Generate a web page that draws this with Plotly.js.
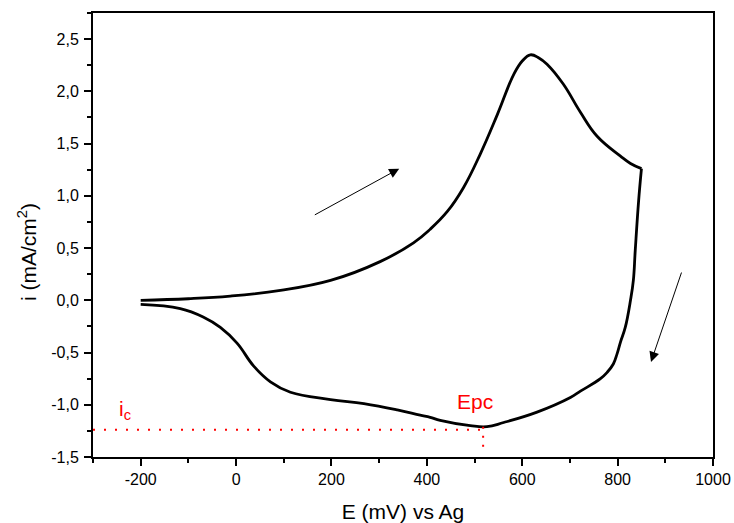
<!DOCTYPE html>
<html>
<head>
<meta charset="utf-8">
<script src="https://cdn.plot.ly/plotly-3.0.1.min.js"></script>
<style>html,body{margin:0;padding:0;background:#fff;}#chart{width:734px;height:523px;}</style>
</head>
<body>
<div id="chart"></div>
<script>
// Forward (anodic) scan
const fwdE = [-200, -100, -12, 93, 198, 302, 372, 407, 443, 477, 512, 548, 582, 600, 617, 635, 652, 686, 722, 757, 806, 827, 850];
const fwdI = [0.0, 0.015, 0.04, 0.095, 0.19, 0.37, 0.55, 0.68, 0.85, 1.08, 1.40, 1.78, 2.16, 2.29, 2.35, 2.32, 2.26, 2.07, 1.80, 1.57, 1.38, 1.31, 1.26];
// Reverse (cathodic) scan
const revE = [850, 844, 837, 833, 827, 816, 806, 799, 791, 778, 764, 722, 701, 631, 561, 526, 491, 428, 407, 386, 338, 268, 198, 114, 72, 37, 2, -33, -69, -117, -200];
const revI = [1.26, 0.95, 0.48, 0.19, 0.0, -0.26, -0.40, -0.51, -0.61, -0.69, -0.75, -0.87, -0.93, -1.07, -1.17, -1.21, -1.20, -1.15, -1.12, -1.10, -1.05, -0.99, -0.95, -0.88, -0.78, -0.63, -0.41, -0.26, -0.16, -0.08, -0.04];
// Marker lines
const icLevel = -1.24;
const epcE = 518;
const epcLineStart = -300;
const epcLineBottom = -1.43;
const epcCurveI = -1.21;
// Ticks
const xTickVals = [-200, 0, 200, 400, 600, 800, 1000];
const xTickText = ["-200", "0", "200", "400", "600", "800", "1000"];
const yTickVals = [-1.5, -1.0, -0.5, 0.0, 0.5, 1.0, 1.5, 2.0, 2.5];
const yTickText = ["-1,5", "-1,0", "-0,5", "0,0", "0,5", "1,0", "1,5", "2,0", "2,5"];

const FONT = "Liberation Sans, Arial, Helvetica, sans-serif";

const traces = [
  {x: fwdE, y: fwdI, mode: "lines", line: {color: "#000", width: 2.8, shape: "spline", smoothing: 1.2}, hoverinfo: "skip"},
  {x: revE, y: revI, mode: "lines", line: {color: "#000", width: 2.8, shape: "spline", smoothing: 1.2}, hoverinfo: "skip"},
  {x: [epcLineStart, epcE], y: [icLevel, icLevel], mode: "lines", line: {color: "#ff0000", width: 2, dash: "2px,9px"}, hoverinfo: "skip"},
  {x: [epcE, epcE], y: [epcCurveI, epcLineBottom], mode: "lines", line: {color: "#ff0000", width: 2, dash: "2px,7px"}, hoverinfo: "skip"}
];

const axisCommon = {
  showline: true, linewidth: 2, linecolor: "#000", mirror: true,
  ticks: "outside", ticklen: 7, tickwidth: 2, tickcolor: "#000",
  showgrid: false, zeroline: false,
  tickfont: {family: FONT, size: 16, color: "#000"}
};

const layout = {
  width: 734, height: 523,
  margin: {l: 93, r: 21, t: 13, b: 66},
  paper_bgcolor: "#fff", plot_bgcolor: "#fff",
  showlegend: false,
  font: {family: FONT, color: "#000"},
  xaxis: Object.assign({}, axisCommon, {
    range: [-300, 1000],
    tickmode: "array", tickvals: xTickVals, ticktext: xTickText,
    minor: {tick0: -300, dtick: 100, ticks: "outside", ticklen: 4, tickwidth: 2, tickcolor: "#000", showgrid: false},
    title: {text: "E (mV) vs Ag", font: {family: FONT, size: 21, color: "#000"}, standoff: 20}
  }),
  yaxis: Object.assign({}, axisCommon, {
    range: [-1.5, 2.75],
    tickmode: "array", tickvals: yTickVals, ticktext: yTickText,
    minor: {tick0: -1.5, dtick: 0.25, ticks: "outside", ticklen: 4, tickwidth: 2, tickcolor: "#000", showgrid: false},
    ticklabelstandoff: 2
  }),
  annotations: [
    {xref: "paper", yref: "paper", x: -0.1, y: 0.5, xshift: -4, yshift: -17, text: "i (mA/cm<sup>2</sup>)", textangle: -90, showarrow: false,
     font: {family: FONT, size: 21, color: "#000"}, xanchor: "center", yanchor: "middle"},
    {x: 500, y: -0.97, xref: "x", yref: "y", text: "Epc", showarrow: false, font: {family: FONT, size: 21, color: "#ff0000"}},
    {x: -250, y: -1.05, xref: "x", yref: "y", text: "i<sub>c</sub>", showarrow: false, font: {family: FONT, size: 21, color: "#ff0000"}, xanchor: "left"},
    {x: 342, y: 1.26, ax: 162, ay: 0.81, xref: "x", yref: "y", axref: "x", ayref: "y", text: "", showarrow: true,
     arrowhead: 2, arrowsize: 2, arrowwidth: 1, arrowcolor: "#000"},
    {x: 870, y: -0.59, ax: 935, ay: 0.28, xref: "x", yref: "y", axref: "x", ayref: "y", text: "", showarrow: true,
     arrowhead: 2, arrowsize: 2, arrowwidth: 1, arrowcolor: "#000"}
  ]
};

Plotly.newPlot("chart", traces, layout, {staticPlot: true, displayModeBar: false});
</script>
</body>
</html>
